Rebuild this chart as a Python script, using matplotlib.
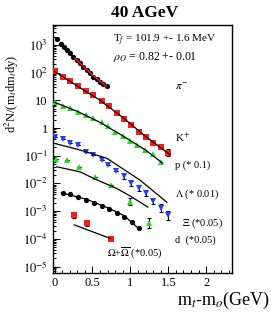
import matplotlib
matplotlib.use("Agg")
import matplotlib.pyplot as plt
from matplotlib.ticker import FixedLocator, FixedFormatter, LogLocator, MultipleLocator, NullFormatter

plt.rcParams['font.family'] = ['Liberation Serif', 'DejaVu Serif']
plt.rcParams['mathtext.fontset'] = 'stix'

# pi- (black circles, top)
pi_x = [0.03, 0.08, 0.12, 0.16, 0.21, 0.25, 0.30, 0.34, 0.38, 0.43, 0.47, 0.51, 0.56, 0.60, 0.64, 0.69]
pi_y = [1620, 1070, 850, 660, 500, 380, 280, 215, 162, 123, 93, 72, 58, 47, 39, 32]
pi_fit_x = [0.27, 0.48, 0.69]
pi_fit_y = [330, 92, 31]

# K+ (red squares)
k_x = [0.01, 0.11, 0.21, 0.31, 0.42, 0.51, 0.62, 0.72, 0.82, 0.92, 1.01, 1.11, 1.21, 1.30, 1.40, 1.50]
k_y = [112, 71, 48, 32, 21, 15, 9.5, 6.2, 3.6, 2.1, 1.3, 0.74, 0.49, 0.28, 0.21, 0.13]
k_err = [0, 0, 0, 0, 0, 0, 0, 0, 0, 0, 0, 0, 0, 0, 0, 0.3]
k_fit_x = [0.0, 0.3, 0.6, 0.9, 1.2, 1.52]
k_fit_y = [110, 33, 10, 2.4, 0.5, 0.11]

# p (*0.1) (green up triangles)
p_x = [0.01, 0.11, 0.21, 0.31, 0.42, 0.51, 0.62, 0.71, 0.80, 0.90, 1.00, 1.09, 1.19, 1.30, 1.40]
p_y = [8.9, 6.2, 5.1, 3.9, 2.95, 2.24, 1.7, 1.17, 0.74, 0.51, 0.34, 0.245, 0.16, 0.12, 0.058]
p_fit_x = [0.0, 0.3, 0.6, 0.9, 1.2, 1.42]
p_fit_y = [8.5, 4.0, 1.6, 0.52, 0.16, 0.055]

# Lambda (*0.01) (blue down triangles)
l_x = [0.01, 0.11, 0.21, 0.31, 0.42, 0.51, 0.62, 0.71, 0.81, 0.91, 1.01, 1.11, 1.21, 1.30, 1.40, 1.50]
l_y = [0.49, 0.39, 0.30, 0.245, 0.14, 0.107, 0.069, 0.046, 0.028, 0.018, 0.0102, 0.0068, 0.0045, 0.0023, 0.0013, 0.00072]
l_err = [0, 0, 0, 0, 0, 0, 0, 0, 0, 0.25, 0.25, 0.25, 0.3, 0.3, 0.35, 0.45]
l_fit_x = [0.01, 0.34, 0.69, 1.13, 1.48]
l_fit_y = [0.275, 0.16, 0.081, 0.013, 0.0021]

# Xi (*0.05) (green up triangles, lower)
xi_x = [0.02, 0.16, 0.32, 0.53, 0.75, 1.00, 1.24]
xi_y = [0.074, 0.070, 0.040, 0.0166, 0.0087, 0.0022, 0.00038]
xi_err = [0, 0, 0, 0, 0, 0.35, 0.5]
xi_fit_x = [0.03, 0.34, 0.53, 0.81, 1.00, 1.23]
xi_fit_y = [0.040, 0.026, 0.0145, 0.0068, 0.0035, 0.0014]

# d (*0.05) (black circles, lower)
d_x = [0.11, 0.20, 0.31, 0.42, 0.52, 0.62, 0.72, 0.82, 0.92, 1.02, 1.11]
d_y = [0.0044, 0.0040, 0.0032, 0.0025, 0.0020, 0.0015, 0.00115, 0.00083, 0.00063, 0.00042, 0.00025]
d_fit_x = [0.09, 0.42, 0.72, 0.92, 1.13]
d_fit_y = [0.0046, 0.0027, 0.00126, 0.00068, 0.00021]

# Omega + anti-Omega (*0.05) (red squares, lower)
om_x = [0.26, 0.43, 0.74]
om_y = [0.00072, 0.00037, 0.000095]
om_err = [0.3, 0.28, 0]
om_fit_x = [0.26, 0.73]
om_fit_y = [0.00032, 0.000105]

red = '#ff1a1a'
green = '#22dd22'
blue = '#1f3fff'

fig = plt.figure(figsize=(2.73, 3.13), dpi=100)
ax = fig.add_axes([0.193, 0.128, 0.657, 0.792])
ax.set_yscale('log')


def draw(xs, ys, marker, color, ms, errs=None):
    if errs is not None:
        lo = [y - y / (1 + e) for y, e in zip(ys, errs)]
        hi = [y * e for y, e in zip(ys, errs)]
        ax.errorbar(xs, ys, yerr=[lo, hi], fmt='none', ecolor='black',
                    elinewidth=0.8, capsize=1.2, capthick=0.8, zorder=2)
    ax.plot(xs, ys, linestyle='none', marker=marker, color=color, ms=ms,
            markeredgewidth=0, zorder=3)


# fit curves
for fx, fy in [(k_fit_x, k_fit_y), (p_fit_x, p_fit_y), (l_fit_x, l_fit_y),
               (xi_fit_x, xi_fit_y), (d_fit_x, d_fit_y), (om_fit_x, om_fit_y)]:
    ax.plot(fx, fy, color='black', lw=0.9, zorder=4)

draw(pi_x, pi_y, 'o', 'black', 3.8)
draw(k_x, k_y, 's', red, 4.0, k_err)
draw(p_x, p_y, '^', green, 4.2)
draw(l_x, l_y, 'v', blue, 4.2, l_err)
draw(xi_x, xi_y, '^', green, 4.2, xi_err)
draw(d_x, d_y, 'o', 'black', 3.8)
draw(om_x, om_y, 's', red, 4.0, om_err)
ax.plot(pi_fit_x, pi_fit_y, color=red, lw=1.0, zorder=5)

ax.set_xlim(-0.024, 2.34)
ax.set_ylim(5.9e-6, 5200)

ax.yaxis.set_major_locator(FixedLocator([1e3, 1e2, 10, 1, 1e-1, 1e-2, 1e-3, 1e-4, 1e-5]))
ax.yaxis.set_major_formatter(FixedFormatter(['$10^{3}$', '$10^{2}$', '10', '1', '$10^{-1}$',
                                             '$10^{-2}$', '$10^{-3}$', '$10^{-4}$', '$10^{-5}$']))
ax.yaxis.set_minor_locator(LogLocator(base=10, subs=range(2, 10), numticks=20))
ax.yaxis.set_minor_formatter(NullFormatter())
ax.xaxis.set_major_locator(FixedLocator([0, 0.5, 1, 1.5, 2]))
ax.xaxis.set_major_formatter(FixedFormatter(['0', '0.5', '1', '1.5', '2']))
ax.xaxis.set_minor_locator(MultipleLocator(0.1))
ax.tick_params(which='both', direction='in', labelsize=9, width=0.7)
ax.tick_params(axis='x', pad=3)
ax.tick_params(which='major', length=5)
ax.tick_params(which='minor', length=2.5)
for s in ax.spines.values():
    s.set_linewidth(1.0)

tr = ax.transAxes
ax.text(0.336, 0.937, 'T$_f$ = 101.9 +- 1.6 MeV', transform=tr, fontsize=8, va='center')
ax.text(0.336, 0.872, r'$\rho_O$ = 0.82 +- 0.01', transform=tr, fontsize=8.5, va='center')
ax.text(0.682, 0.75, r'$\pi^{-}$', transform=tr, fontsize=8, va='center')
ax.text(0.682, 0.544, 'K$^{+}$', transform=tr, fontsize=8, va='center')
ax.text(0.682, 0.435, 'p (* 0.1)', transform=tr, fontsize=7.5, va='center')
ax.text(0.682, 0.319, r'$\Lambda$ (* 0.01)', transform=tr, fontsize=7.5, va='center')
ax.text(0.72, 0.202, r'$\Xi$ (*0.05)', transform=tr, fontsize=7.5, va='center')
ax.text(0.682, 0.133, 'd  (*0.05)', transform=tr, fontsize=7.5, va='center')
ax.text(0.303, 0.077, r'$\Omega$+$\overline{\Omega}$ (*0.05)', transform=tr, fontsize=7.5, va='center')

fig.text(0.53, 0.958, '40 AGeV', ha='center', va='center', fontsize=12.5, fontweight='bold')
fig.text(0.99, 0.04, 'm$_t$-m$_o$(GeV)', ha='right', va='center', fontsize=13)
fig.text(0.044, 0.70, 'd$^2$N/(m$_t$dm$_t$dy)', ha='center', va='center', rotation=90, fontsize=9)

fig.savefig('out.png', dpi=100)
